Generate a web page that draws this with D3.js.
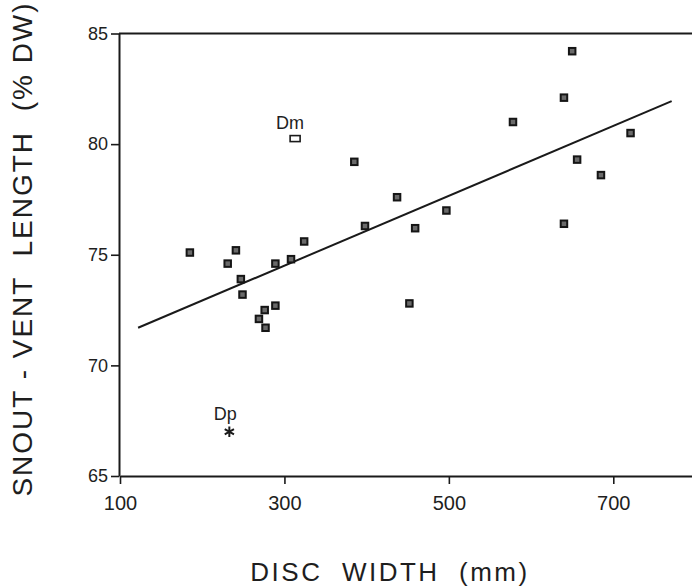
<!DOCTYPE html>
<html>
<head>
<meta charset="utf-8">
<script src="https://cdn.jsdelivr.net/npm/d3@7"></script>
<style>
  html, body { margin: 0; padding: 0; background: #fff; }
  svg { display: block; }
  text { font-family: "Liberation Sans", Arial, Helvetica, sans-serif; fill: #1e1e1e; }
</style>
</head>
<body>
<svg id="chart" width="692" height="588"></svg>
<script>
// ---- data ----
const discWidth = [185, 241, 231, 247, 249, 289, 308, 324, 289, 276, 269, 277,
                   385, 437, 398, 497, 459, 452, 578, 650, 640, 721, 656, 685, 640];
const svlPct    = [75.1, 75.2, 74.6, 73.9, 73.2, 74.6, 74.8, 75.6, 72.7, 72.5, 72.1, 71.7,
                   79.2, 77.6, 76.3, 77.0, 76.2, 72.8, 81.0, 84.2, 82.1, 80.5, 79.3, 78.6, 76.4];
const specialNames = ["Dm", "Dp"];
const specialX     = [313, 233];
const specialY     = [80.25, 67.0];
const fitX = [122, 771];
const fitY = [71.7, 81.94];
const xTicks = [100, 300, 500, 700];
const yTicks = [65, 70, 75, 80, 85];
const xTitle = "DISC  WIDTH  (mm)";
const yTitle = "SNOUT - VENT  LENGTH  (% DW)";

// ---- chart ----
const svg = d3.select("#chart");
const x = d3.scaleLinear().domain([100, 800]).range([120, 695.5]);
const y = d3.scaleLinear().domain([65, 85]).range([476, 33.5]);
const ink = "#1a1a1a";

// frame: left axis, bottom axis, top border
const xAxis = svg.append("g").attr("transform", `translate(0,${y(65)})`)
  .call(d3.axisBottom(x).tickValues(xTicks).tickSize(8).tickSizeOuter(0).tickPadding(12));
xAxis.select(".domain").attr("stroke", ink).attr("stroke-width", 2);
xAxis.selectAll(".tick line").attr("stroke", ink).attr("stroke-width", 1.6);
xAxis.selectAll(".tick text").style("font-size", "20px").attr("fill", ink);

const yAxis = svg.append("g").attr("transform", `translate(${x(100) - 1},0)`)
  .call(d3.axisLeft(y).tickValues(yTicks).tickSize(8).tickSizeOuter(0).tickPadding(3));
yAxis.select(".domain").attr("stroke", ink).attr("stroke-width", 2);
yAxis.selectAll(".tick line").attr("stroke", ink).attr("stroke-width", 1.6);
yAxis.selectAll(".tick text").style("font-size", "18px").attr("fill", ink);

svg.append("line")
  .attr("x1", x(100) - 1).attr("x2", x(800))
  .attr("y1", y(85)).attr("y2", y(85))
  .attr("stroke", ink).attr("stroke-width", 2);

// regression line
svg.append("line")
  .attr("x1", x(fitX[0])).attr("y1", y(fitY[0]))
  .attr("x2", x(fitX[1])).attr("y2", y(fitY[1]))
  .attr("stroke", ink).attr("stroke-width", 2);

// data squares
const pts = discWidth.map((d, i) => ({ x: d, y: svlPct[i] }));
const sq = 6.5;
svg.append("g").selectAll("rect").data(pts).join("rect")
  .attr("x", d => x(d.x) - sq / 2)
  .attr("y", d => y(d.y) - sq / 2)
  .attr("width", sq).attr("height", sq)
  .attr("fill", "#6a6a6a")
  .attr("stroke", "#151515").attr("stroke-width", 2);

// Dm: open rectangle
svg.append("rect")
  .attr("x", x(specialX[0]) - 5).attr("y", y(specialY[0]) - 3)
  .attr("width", 10).attr("height", 6)
  .attr("fill", "none").attr("stroke", ink).attr("stroke-width", 1.6);
svg.append("text")
  .attr("x", x(specialX[0]) - 5).attr("y", y(specialY[0]) - 10)
  .attr("text-anchor", "middle").style("font-size", "18px")
  .text(specialNames[0]);

// Dp: asterisk
svg.append("path")
  .attr("transform", `translate(${x(specialX[1])},${y(specialY[1])})`)
  .attr("d", d3.symbol(d3.symbolAsterisk, 80)())
  .attr("stroke", ink).attr("stroke-width", 2).attr("fill", "none");
svg.append("text")
  .attr("x", x(specialX[1]) - 4).attr("y", y(specialY[1]) - 12)
  .attr("text-anchor", "middle").style("font-size", "18px")
  .text(specialNames[1]);

// titles
svg.append("text")
  .attr("x", 390).attr("y", 581)
  .attr("text-anchor", "middle")
  .style("font-size", "26px").style("letter-spacing", "2.5px")
  .attr("xml:space", "preserve")
  .text(xTitle);

svg.append("text")
  .attr("transform", "translate(32,249) rotate(-90)")
  .attr("text-anchor", "middle")
  .style("font-size", "28px").style("letter-spacing", "2px")
  .attr("xml:space", "preserve")
  .text(yTitle);
</script>
</body>
</html>
